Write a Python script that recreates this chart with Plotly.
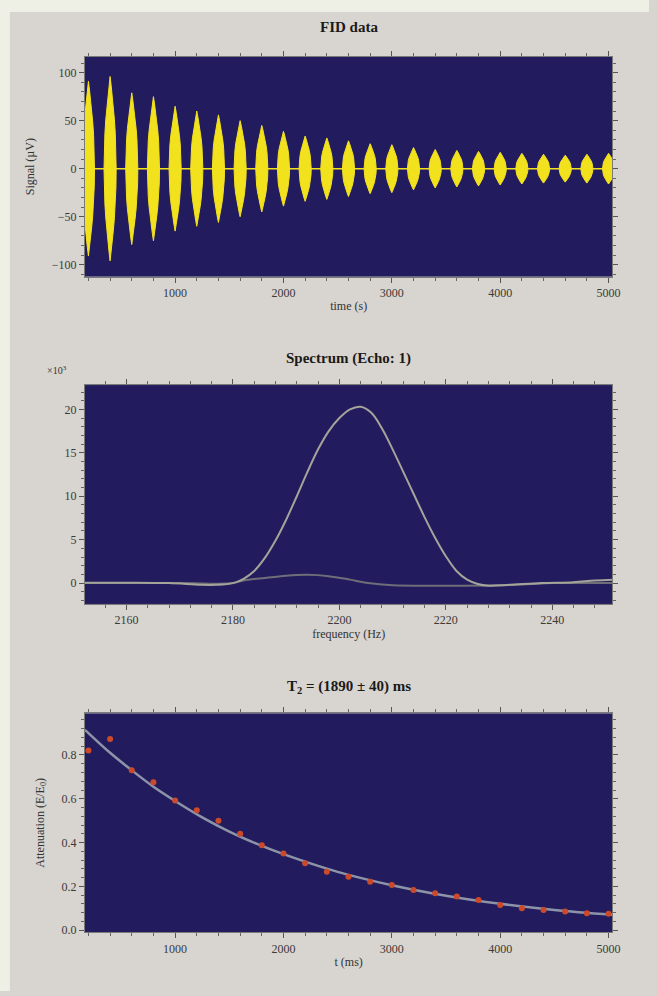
import plotly.graph_objects as go

# ---------------- data ----------------
# FID panel: echo centres (time) and peak amplitudes (uV)
echo_times = [200, 400, 600, 800, 1000, 1200, 1400, 1600, 1800, 2000, 2200, 2400, 2600,
              2800, 3000, 3200, 3400, 3600, 3800, 4000, 4200, 4400, 4600, 4800, 5000]
echo_amps = [91, 96, 79, 75, 65, 60, 56, 50, 45, 39, 34, 32, 29, 26, 25, 22, 20, 19, 18,
             17, 16, 15, 14, 15, 16]
# normalised echo envelope profile read from the bursts (offset in time units, fraction)
env_offsets = [-56, -54, -48, -40, -30, -20, -10, 0, 10, 20, 30, 40, 48, 54, 56]
env_fracs = [0.0, 0.2, 0.38, 0.53, 0.67, 0.79, 0.9, 1.0, 0.9, 0.79, 0.67, 0.53, 0.38, 0.2, 0.0]

# Spectrum panel (x10^3)
spec_freq = [2152, 2160, 2168, 2174, 2177, 2180, 2182, 2184, 2186, 2188, 2190, 2192, 2194,
             2196, 2198, 2200, 2202, 2204, 2206, 2208, 2210, 2212, 2214, 2216, 2218, 2220,
             2222, 2224, 2226, 2228, 2232, 2238, 2244, 2248, 2252]
spec_mag = [0.05, 0.05, 0.0, -0.2, -0.2, 0.0, 0.5, 1.4, 2.9, 4.9, 7.3, 10.0, 12.8,
            15.4, 17.5, 19.0, 20.0, 20.3, 19.6, 17.8, 15.4, 12.8, 10.2, 7.6, 5.2, 3.1,
            1.4, 0.4, -0.1, -0.3, -0.2, 0.0, 0.1, 0.3, 0.4]
spec_part_freq = [2152, 2170, 2180, 2182, 2186, 2190, 2194, 2198, 2202, 2205, 2210, 2220,
                  2230, 2236, 2240, 2252]
spec_part = [0.0, 0.0, 0.0, 0.3, 0.6, 0.85, 0.95, 0.8, 0.4, 0.05, -0.25, -0.3, -0.25,
             -0.1, 0.0, 0.0]

# Attenuation panel
att_t = [200, 400, 600, 800, 1000, 1200, 1400, 1600, 1800, 2000, 2200, 2400, 2600,
         2800, 3000, 3200, 3400, 3600, 3800, 4000, 4200, 4400, 4600, 4800, 5000]
att_val = [0.82, 0.873, 0.73, 0.676, 0.592, 0.547, 0.50, 0.44, 0.388, 0.35, 0.305, 0.267,
           0.244, 0.221, 0.206, 0.183, 0.168, 0.153, 0.138, 0.115, 0.10, 0.092, 0.085,
           0.077, 0.075]
fit_t = [168, 400, 600, 800, 1000, 1250, 1500, 1750, 2000, 2500, 3000, 3500, 4000, 4500, 5036]
fit_val = [0.915, 0.81, 0.73, 0.655, 0.59, 0.515, 0.45, 0.395, 0.347, 0.266, 0.205, 0.157,
           0.12, 0.092, 0.07]

titles = ["FID data", "Spectrum (Echo: 1)", "T<sub>2</sub> = (1890 ± 40) ms"]
xtitles = ["time (s)", "frequency (Hz)", "t (ms)"]

# ---------------- figure ----------------
W, H = 657, 996
SERIF = "Liberation Serif"
YEL = "#f2e21e"
fig = go.Figure()

# FID bursts
for tc, a in zip(echo_times, echo_amps):
    xs = [tc + o for o in env_offsets] + [tc + o for o in reversed(env_offsets)]
    ys = [a * f for f in env_fracs] + [-a * f for f in reversed(env_fracs)]
    fig.add_trace(go.Scatter(x=xs, y=ys, mode="lines", fill="toself", fillcolor=YEL,
                             line=dict(color=YEL, width=1), xaxis="x", yaxis="y",
                             showlegend=False, hoverinfo="skip"))
fig.add_trace(go.Scatter(x=[echo_times[0] - 100, echo_times[-1] + 100], y=[0, 0],
                         mode="lines", line=dict(color=YEL, width=1.5),
                         xaxis="x", yaxis="y", showlegend=False))

# Spectrum
fig.add_trace(go.Scatter(x=spec_part_freq, y=spec_part, mode="lines", line_shape="spline",
                         line=dict(color="#6e6e78", width=2), xaxis="x2", yaxis="y2",
                         showlegend=False))
fig.add_trace(go.Scatter(x=spec_freq, y=spec_mag, mode="lines", line_shape="spline",
                         line=dict(color="#a4a49a", width=2), xaxis="x2", yaxis="y2",
                         showlegend=False))

# Attenuation
fig.add_trace(go.Scatter(x=fit_t, y=fit_val, mode="lines", line_shape="spline",
                         line=dict(color="#8e94a8", width=2.5), xaxis="x3", yaxis="y3",
                         showlegend=False))
fig.add_trace(go.Scatter(x=att_t, y=att_val, mode="markers",
                         marker=dict(color="#cc4a2a", size=6, symbol="circle"),
                         xaxis="x3", yaxis="y3", showlegend=False))

# panel geometry in pixels
px_left, px_right = 86, 620
panels = [(57, 278), (387, 607), (717, 937)]
xdom = [px_left / W, px_right / W]


def ydom(t, b):
    return [1 - b / H, 1 - t / H]


tickfont = dict(family=SERIF, size=12, color="#3a3a3a")
common = dict(showgrid=False, zeroline=False, showline=True, linecolor="#7a7a7a",
              linewidth=1, mirror="ticks", ticks="outside", ticklen=5, tickwidth=1,
              tickcolor="#555555", tickfont=tickfont)

xranges = [[168, 5036], [2152.2, 2251.3], [168, 5036]]
xdt = [1000, 20, 1000]
xminor = [200, 4, 200]
yranges = [[-112.4, 116.6], [-2.4, 22.8], [-0.01, 0.99]]
ydt = [50, 5, 0.2]
yminor = [10, 1, 0.04]
yfmt = ["", "", ".1f"]
xtick0 = [0, 2160, 0]

lay = {}
for i in range(3):
    sx = "" if i == 0 else str(i + 1)
    t, b = panels[i]
    lay["xaxis" + sx] = dict(domain=xdom, range=xranges[i], anchor="y" + sx,
                             dtick=xdt[i], tick0=xtick0[i],
                             minor=dict(dtick=xminor[i], ticklen=3, tickcolor="#666666",
                                        ticks="outside"),
                             title=dict(text=xtitles[i], standoff=2,
                                        font=dict(family=SERIF, size=12, color="#333333")),
                             **common)
    lay["yaxis" + sx] = dict(domain=ydom(t, b), range=yranges[i], anchor="x" + sx,
                             dtick=ydt[i], tick0=0, tickformat=yfmt[i],
                             minor=dict(dtick=yminor[i], ticklen=3, tickcolor="#666666",
                                        ticks="outside"),
                             **common)

lay["yaxis"]["title"] = dict(text="Signal (µV)", standoff=14,
                             font=dict(family=SERIF, size=12, color="#333333"))
lay["yaxis3"]["title"] = dict(text="Attenuation (E/E<sub>0</sub>)", standoff=14,
                              font=dict(family=SERIF, size=12, color="#333333"))

annotations = []
title_y = [27, 360, 690]
for i in range(3):
    annotations.append(dict(text="<b>" + titles[i] + "</b>", x=(px_left + px_right) / 2 / W,
                            y=1 - title_y[i] / H, xref="paper", yref="paper",
                            showarrow=False, xanchor="center", yanchor="middle",
                            font=dict(family=SERIF, size=15, color="#1a1a1a")))
annotations.append(dict(text="×10<sup>3</sup>", x=58 / W, y=1 - 372 / H, xref="paper",
                        yref="paper", showarrow=False, xanchor="center", yanchor="middle",
                        font=dict(family=SERIF, size=10, color="#333333")))

BORDER = "#eef0e6"
fig.update_layout(
    width=W, height=H, margin=dict(l=0, r=0, t=0, b=0),
    paper_bgcolor="#d8d4cf", plot_bgcolor="#221c5e",
    annotations=annotations,
    shapes=[
        dict(type="rect", xref="paper", yref="paper", x0=0, x1=10 / W, y0=0, y1=1,
             fillcolor=BORDER, line=dict(width=0), layer="below"),
        dict(type="rect", xref="paper", yref="paper", x0=0, x1=1, y0=1 - 12 / H, y1=1,
             fillcolor=BORDER, line=dict(width=0), layer="below"),
    ],
    showlegend=False,
    **lay,
)

fig.write_html("out.html")
